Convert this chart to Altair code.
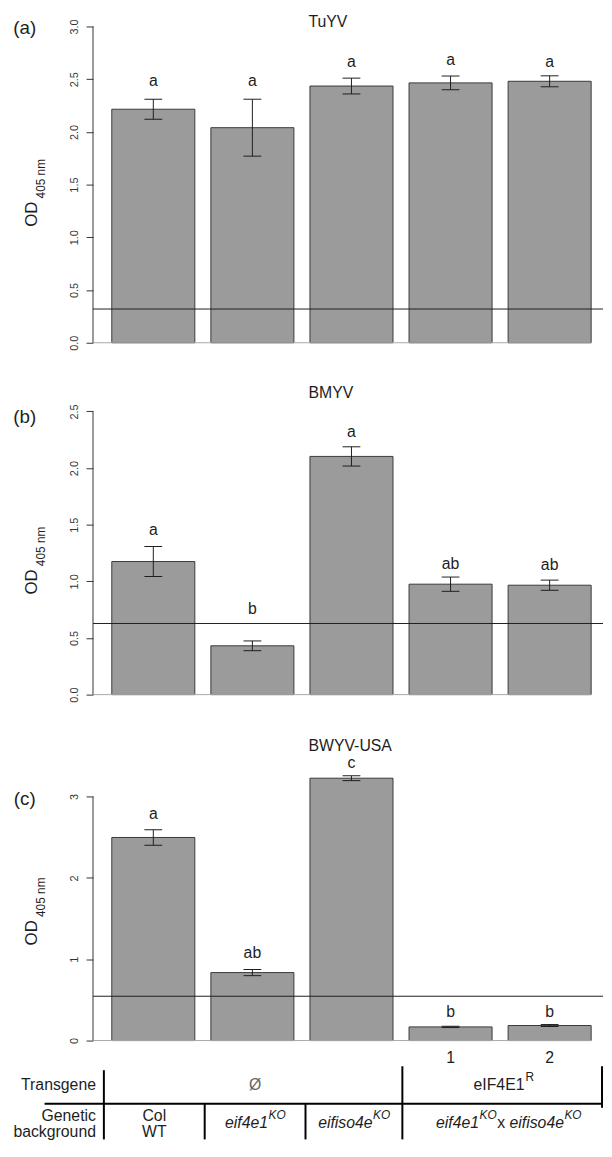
import altair as alt
import pandas as pd

# ---------------- data ----------------
categories = ["Col WT", "eif4e1 KO", "eifiso4e KO", "eIF4E1R line 1", "eIF4E1R line 2"]
line_numbers = ["", "", "", "1", "2"]

tuyv_mean = [2.215, 2.04, 2.435, 2.465, 2.48]
tuyv_se = [0.095, 0.27, 0.075, 0.065, 0.052]
tuyv_letters = ["a", "a", "a", "a", "a"]
tuyv_letter_y = [2.48, 2.48, 2.66, 2.68, 2.66]
tuyv_threshold = 0.32

bmyv_mean = [1.175, 0.431, 2.103, 0.975, 0.966]
bmyv_se = [0.132, 0.043, 0.085, 0.063, 0.045]
bmyv_letters = ["a", "b", "a", "ab", "ab"]
bmyv_letter_y = [1.455, 0.754, 2.318, 1.155, 1.147]
bmyv_threshold = 0.628

bwyv_mean = [2.497, 0.836, 3.226, 0.168, 0.185]
bwyv_se = [0.095, 0.038, 0.03, 0.008, 0.012]
bwyv_letters = ["a", "ab", "c", "b", "b"]
bwyv_letter_y = [2.79, 1.08, 3.41, 0.35, 0.35]
bwyv_threshold = 0.545

# ---------------- style / layout ----------------
W = 516
FONT = "Liberation Sans"
INK = "#1e1e1e"

x_scale = alt.Scale(domain=categories, paddingInner=0.162, paddingOuter=0.1546, align=0.613)


def xenc():
    return alt.X("cat:N", scale=x_scale, sort=categories, axis=None)


def label(text, x, y, size=16, align="center", baseline="middle", angle=0,
          color=INK, style="normal"):
    return alt.Chart(pd.DataFrame({"t": [text]})).mark_text(
        align=align, baseline=baseline, angle=angle, fontSize=size,
        color=color, fontStyle=style, font=FONT
    ).encode(x=alt.value(x), y=alt.value(y), text="t:N")


def segment(x1, y1, x2, y2, width=2, color="#000000"):
    return alt.Chart(pd.DataFrame({"s": [0]})).mark_rule(
        color=color, strokeWidth=width
    ).encode(x=alt.value(x1), y=alt.value(y1), x2=alt.value(x2), y2=alt.value(y2))


def panel(virus, tag, mean, se, letters, letter_y, threshold, ymax, axis_top,
          ticks, fmt, height, title_y, tag_y, od_y, sub_y, extra=()):
    df = pd.DataFrame({
        "cat": categories,
        "mean": mean,
        "lo": [m - s for m, s in zip(mean, se)],
        "hi": [m + s for m, s in zip(mean, se)],
        "letter": letters,
        "ly": letter_y,
    })
    ysc = alt.Scale(domain=[0, ymax], nice=False, zero=False)
    yaxis = alt.Axis(values=ticks, format=fmt, title=None, labelAngle=270,
                     labelAlign="center", labelBaseline="bottom", labelPadding=7,
                     tickSize=7, tickColor="#333333", tickWidth=1,
                     labelColor="#333333", labelFontSize=11, labelFont=FONT,
                     domain=False, grid=False, labelFlush=False, labelOverlap=False)

    def Y(field):
        return alt.Y(field, scale=ysc, axis=yaxis, title=None)

    base = alt.Chart(df)
    bars = base.mark_bar(fill="#9b9b9b", stroke="#3a3a3a", strokeWidth=1).encode(
        x=xenc(), y=Y("mean:Q"))
    zero = alt.Chart(pd.DataFrame({"mean": [0.0]})).mark_rule(
        color="#a8a8a8", strokeWidth=1).encode(y=Y("mean:Q"), x=alt.value(0), x2=alt.value(504))
    axis_line = alt.Chart(pd.DataFrame({"mean": [0.0], "top": [axis_top]})).mark_rule(
        color="#333333", strokeWidth=1).encode(x=alt.value(0), y=Y("mean:Q"), y2="top:Q")
    thr = alt.Chart(pd.DataFrame({"mean": [threshold]})).mark_rule(
        color=INK, strokeWidth=1).encode(y=Y("mean:Q"))
    err = base.mark_rule(color=INK, strokeWidth=1).encode(x=xenc(), y=Y("lo:Q"), y2="hi:Q")
    cap_hi = base.mark_tick(orient="horizontal", size=18, thickness=1, color=INK,
                            opacity=1).encode(x=xenc(), y=Y("hi:Q"))
    cap_lo = base.mark_tick(orient="horizontal", size=18, thickness=1, color=INK,
                            opacity=1).encode(x=xenc(), y=Y("lo:Q"))
    txt = base.mark_text(fontSize=16, font=FONT, color=INK, baseline="middle").encode(
        x=xenc(), y=Y("ly:Q"), text="letter:N")
    layers = [bars, zero, thr, err, cap_hi, cap_lo, axis_line, txt,
              label(virus, 218, title_y, size=16, align="left"),
              label(tag, -69, tag_y, size=19),
              label("OD", -62, od_y, size=17, angle=270),
              label("405 nm", -53, sub_y, size=12, angle=270)]
    layers += list(extra)
    return alt.layer(*layers).properties(width=W, height=height)


# anchor so the plot areas start at the same place as in the reference
anchor = [segment(-85.5, 0, -85.5, 4, width=1, color="#ffffff")]

# table under the last panel (pixel layout relative to panel c)
numbers = alt.Chart(pd.DataFrame({"cat": categories, "n": line_numbers})).mark_text(
    fontSize=16, font=FONT, color=INK, baseline="alphabetic").encode(
    x=xenc(), y=alt.value(311), text="n:N")

table = [numbers,
         label("Transgene", 3, 338, align="right", baseline="alphabetic"),
         label("Genetic", 3, 369, align="right", baseline="alphabetic"),
         label("background", 3, 386, align="right", baseline="alphabetic"),
         label("Ø", 164, 338, baseline="alphabetic", color="#666666"),
         label("Col", 62, 369, baseline="alphabetic"),
         label("WT", 62, 386, baseline="alphabetic"),
         label("eIF4E1", 385, 338, align="left", baseline="alphabetic"),
         label("R", 437.5, 329, size=12, align="left", baseline="alphabetic"),
         label("eif4e1", 133.5, 376, align="left", baseline="alphabetic", style="italic"),
         label("KO", 177.6, 367, size=12, align="left", baseline="alphabetic", style="italic"),
         label("eifiso4e", 227.8, 376, align="left", baseline="alphabetic", style="italic"),
         label("KO", 283.4, 367, size=12, align="left", baseline="alphabetic", style="italic"),
         label("eif4e1", 347, 376, align="left", baseline="alphabetic", style="italic"),
         label("KO", 391.1, 367, size=12, align="left", baseline="alphabetic", style="italic"),
         label("x", 409, 376, align="left", baseline="alphabetic"),
         label("eifiso4e", 421.4, 376, align="left", baseline="alphabetic", style="italic"),
         label("KO", 477, 367, size=12, align="left", baseline="alphabetic", style="italic"),
         segment(11, 318, 11, 388),
         segment(313, 314, 313, 388),
         segment(515, 314, 515, 356),
         segment(113, 352, 113, 388),
         segment(215, 352, 215, 388),
         segment(-49, 352, 516, 352)]

pa = panel("TuYV", "(a)", tuyv_mean, tuyv_se, tuyv_letters, tuyv_letter_y, tuyv_threshold,
           3.0, 3.0, [0, 0.5, 1.0, 1.5, 2.0, 2.5, 3.0], ".1f", 320, -4, 2, 190, 154, anchor)
pb = panel("BMYV", "(b)", bmyv_mean, bmyv_se, bmyv_letters, bmyv_letter_y, bmyv_threshold,
           294 / 114.6, 2.5, [0, 0.5, 1.0, 1.5, 2.0, 2.5], ".1f", 294, -11, 13, 180, 144)
pc = panel("BWYV-USA", "(c)", bwyv_mean, bwyv_se, bwyv_letters, bwyv_letter_y, bwyv_threshold,
           3.5, 3.0, [0, 1, 2, 3], "d", 288, -10, 44, 179, 143, table)

chart = alt.vconcat(pa, pb, pc, spacing=62, bounds="flush").properties(
    padding=0
).configure(font=FONT).configure_view(stroke=None)

chart.save("out.html", embed_options={"renderer": "svg", "actions": False})
